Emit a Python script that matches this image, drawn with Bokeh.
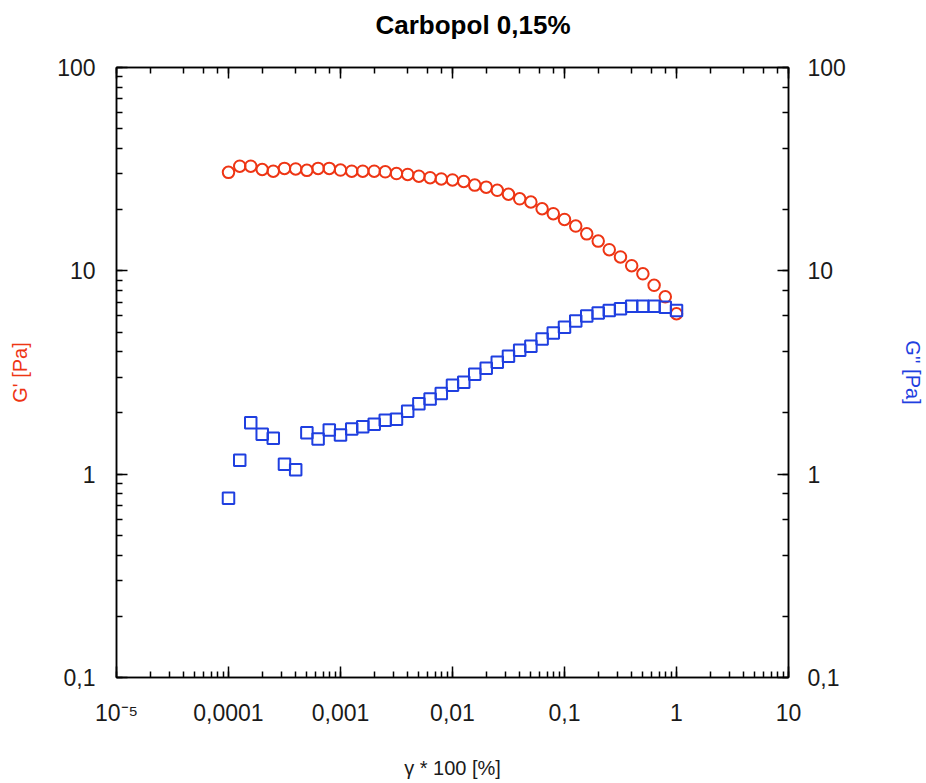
from bokeh.plotting import figure
from bokeh.models import Range1d, LogAxis, LogTicker, CustomJSTickFormatter
from bokeh.embed import file_html
from bokeh.resources import INLINE

# ---- data ----
strain = [0.0001, 0.000126, 0.000158, 0.0002, 0.000251, 0.000316, 0.000398, 0.000501,
          0.000631, 0.000794, 0.001, 0.00126, 0.00158, 0.002, 0.00251, 0.00316, 0.00398,
          0.00501, 0.00631, 0.00794, 0.01, 0.0126, 0.0158, 0.02, 0.0251, 0.0316, 0.0398,
          0.0501, 0.0631, 0.0794, 0.1, 0.126, 0.158, 0.2, 0.251, 0.316, 0.398, 0.501,
          0.631, 0.794, 1.0]
g_storage = [30.5, 32.7, 32.7, 31.5, 30.9, 31.9, 31.7, 31.2, 31.9, 31.9, 31.3, 30.9, 30.9,
             30.9, 30.7, 30.1, 29.8, 29.2, 28.7, 28.3, 28.0, 27.5, 26.4, 25.8, 24.9, 23.8,
             22.6, 21.8, 20.2, 19.1, 17.9, 16.6, 15.2, 14.0, 12.7, 11.7, 10.6, 9.67, 8.49,
             7.45, 6.15]
g_loss = [0.762, 1.17, 1.79, 1.57, 1.50, 1.12, 1.05, 1.60, 1.49, 1.65, 1.56, 1.67, 1.71,
          1.76, 1.84, 1.86, 2.04, 2.22, 2.34, 2.49, 2.74, 2.83, 3.10, 3.32, 3.55, 3.80,
          4.07, 4.26, 4.62, 4.95, 5.28, 5.66, 5.99, 6.21, 6.39, 6.50, 6.70, 6.70, 6.70,
          6.63, 6.39]
x_tick_labels = ["10\u207b\u2075", "0,0001", "0,001", "0,01", "0,1", "1", "10"]
y_tick_labels = ["0,1", "1", "10", "100"]

title_text = "Carbopol 0,15%"
x_label = "\u03b3 * 100 [%]"
y_left_label = "G' [Pa]"
y_right_label = "G'' [Pa]"

RED = "#ee3514"
BLUE = "#1f3fe0"
FONT = "Liberation Sans"

p = figure(width=926, height=783, x_axis_type="log", y_axis_type="log",
           x_range=Range1d(1e-5, 10), y_range=Range1d(0.1, 100),
           output_backend="svg", toolbar_location=None,
           min_border_left=116, min_border_right=136, min_border_top=67,
           min_border_bottom=106)
p.xgrid.visible = False
p.ygrid.visible = False
p.outline_line_color = "black"
p.outline_line_width = 1.5
p.background_fill_color = "white"
p.border_fill_color = "white"

p.title.text = title_text
p.title.text_font = FONT
p.title.text_font_size = "26px"
p.title.text_font_style = "bold"
p.title.text_color = "black"
p.title.align = "left"
p.title.offset = 259
p.title.standoff = 0

xfmt = CustomJSTickFormatter(args=dict(labels=x_tick_labels),
                             code="const i = Math.round(Math.log10(tick)) + 5; return (i >= 0 && i < labels.length) ? labels[i] : ' ';")
yfmt = CustomJSTickFormatter(args=dict(labels=y_tick_labels),
                             code="const i = Math.round(Math.log10(tick)) + 1; return (i >= 0 && i < labels.length) ? labels[i] : ' ';")
blankfmt = CustomJSTickFormatter(code="return ' ';")


def style_axis(ax):
    ax.major_tick_in = 11
    ax.major_tick_out = 0
    ax.minor_tick_in = 6
    ax.minor_tick_out = 0
    ax.axis_line_width = 1.5
    ax.major_tick_line_width = 1.5
    ax.minor_tick_line_width = 1.5
    ax.axis_line_color = "black"
    ax.major_tick_line_color = "black"
    ax.minor_tick_line_color = "black"
    ax.major_label_text_font = FONT
    ax.major_label_text_font_size = "23px"
    ax.major_label_text_color = "#1a1a1a"
    ax.axis_label_text_font = FONT
    ax.axis_label_text_font_size = "20px"
    ax.axis_label_text_font_style = "normal"


xa = p.xaxis[0]
style_axis(xa)
xa.formatter = xfmt
xa.major_label_standoff = 22
xa.axis_label = x_label
xa.axis_label_standoff = 28
xa.axis_label_text_color = "#1a1a1a"

ya = p.yaxis[0]
style_axis(ya)
ya.formatter = yfmt
ya.major_label_standoff = 21
ya.axis_label = y_left_label
ya.axis_label_standoff = 23
ya.axis_label_text_color = RED

ra = LogAxis(ticker=LogTicker(), formatter=yfmt)
style_axis(ra)
ra.major_label_standoff = 19
ra.axis_label = y_right_label
ra.axis_label_standoff = 53
ra.axis_label_text_color = BLUE
p.add_layout(ra, "right")

ta = LogAxis(ticker=LogTicker(), formatter=blankfmt)
style_axis(ta)
ta.major_label_text_font_size = "8px"
ta.major_label_text_color = "white"
ta.major_label_standoff = 16
p.add_layout(ta, "above")

p.scatter(strain, g_storage, marker="circle", size=11.5, line_color=RED, line_width=2,
          fill_color="white", fill_alpha=0)
p.scatter(strain, g_loss, marker="square", size=11.5, line_color=BLUE, line_width=2,
          fill_color="white", fill_alpha=0)

open("out.html", "w").write(file_html(p, INLINE))
